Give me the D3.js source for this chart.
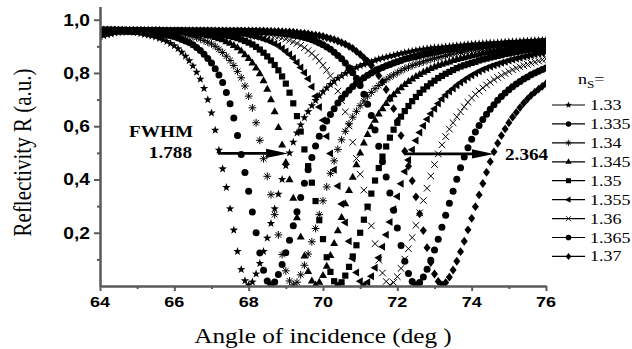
<!DOCTYPE html>
<html><head><meta charset="utf-8">
<script src="https://cdn.jsdelivr.net/npm/d3@7"></script>
<style>body{margin:0;background:#fff}svg{display:block}</style>
</head><body>
<svg id="chart" width="632" height="349"></svg>
<script>
// ---- data ----
const angles = [64,64.1,64.2,64.3,64.4,64.5,64.6,64.7,64.8,64.9,65,65.1,65.2,65.3,65.4,65.5,65.6,65.7,65.8,65.9,
66,66.1,66.2,66.3,66.4,66.5,66.6,66.7,66.8,66.9,67,67.1,67.2,67.3,67.4,67.5,67.6,67.7,67.8,67.9,
68,68.1,68.2,68.3,68.4,68.5,68.6,68.7,68.8,68.9,69,69.1,69.2,69.3,69.4,69.5,69.6,69.7,69.8,69.9,
70,70.1,70.2,70.3,70.4,70.5,70.6,70.7,70.8,70.9,71,71.1,71.2,71.3,71.4,71.5,71.6,71.7,71.8,71.9,
72,72.1,72.2,72.3,72.4,72.5,72.6,72.7,72.8,72.9,73,73.1,73.2,73.3,73.4,73.5,73.6,73.7,73.8,73.9,
74,74.1,74.2,74.3,74.4,74.5,74.6,74.7,74.8,74.9,75,75.1,75.2,75.3,75.4,75.5,75.6,75.7,75.8,75.9,76];

const seriesLabels = ["1.33","1.335","1.34","1.345","1.35","1.355","1.36","1.365","1.37"];
const seriesMarkers = ["star","circle","asterisk","triUp","square","triLeft","cross","circle","diamond"];

const r133 = [.936,.940,.944,.947,.950,.952,.953,.954,.954,.953,
.951,.948,.945,.942,.939,.935,.930,.925,.918,.911,
.902,.891,.878,.863,.846,.826,.803,.777,.742,.700,
.650,.585,.510,.440,.370,.290,.210,.130,.062,.020,
.004,.015,.045,.085,.130,.180,.235,.290,.345,.400,
.452,.500,.540,.575,.605,.632,.655,.677,.697,.715,
.730,.744,.757,.769,.780,.789,.798,.806,.814,.821,
.827,.832,.837,.842,.847,.852,.856,.859,.863,.866,
.870,.873,.876,.879,.882,.885,.887,.889,.891,.893,
.895,.896,.897,.899,.900,.901,.903,.904,.905,.907,
.908,.909,.910,.911,.912,.913,.913,.914,.915,.916,
.917,.918,.918,.919,.920,.920,.921,.922,.922,.923,.924];

const r1335 = [.958,.958,.958,.958,.958,.958,.958,.957,.957,.956,
.956,.955,.954,.953,.952,.950,.948,.946,.943,.940,
.936,.931,.926,.920,.914,.906,.896,.884,.870,.854,
.837,.816,.792,.764,.727,.684,.631,.565,.494,.426,
.356,.278,.200,.124,.059,.019,.004,.015,.043,.081,
.125,.172,.226,.279,.332,.386,.437,.483,.526,.562,
.593,.620,.644,.666,.687,.705,.721,.735,.749,.761,
.772,.782,.791,.800,.807,.815,.821,.827,.832,.837,
.842,.847,.852,.855,.859,.862,.866,.869,.872,.875,
.878,.881,.884,.886,.888,.890,.892,.894,.896,.897,
.898,.899,.901,.902,.903,.904,.906,.907,.908,.909,
.910,.911,.912,.913,.913,.914,.915,.916,.917,.918,.918];

const r134 = [.959,.959,.959,.959,.959,.959,.958,.958,.958,.958,
.958,.958,.957,.957,.956,.956,.955,.954,.953,.952,
.950,.948,.946,.943,.940,.937,.933,.928,.922,.916,
.909,.900,.889,.877,.863,.847,.828,.806,.782,.751,
.713,.669,.613,.547,.478,.412,.343,.268,.192,.118,
.057,.019,.004,.014,.042,.078,.120,.166,.216,.268,
.320,.372,.423,.470,.513,.549,.581,.609,.634,.656,
.677,.695,.713,.727,.741,.753,.765,.775,.785,.793,
.801,.809,.816,.822,.828,.833,.837,.842,.847,.851,
.855,.858,.862,.865,.869,.872,.875,.877,.880,.883,
.886,.887,.889,.891,.893,.895,.896,.897,.898,.900,
.901,.902,.904,.905,.906,.907,.908,.909,.910,.911,.912];

const r1345 = [.960,.960,.960,.960,.959,.959,.959,.959,.958,.958,
.958,.958,.958,.958,.958,.958,.958,.957,.957,.956,
.956,.955,.954,.953,.952,.950,.948,.946,.944,.941,
.938,.934,.929,.925,.918,.912,.904,.895,.883,.869,
.855,.838,.819,.797,.771,.739,.700,.655,.596,.530,
.464,.399,.330,.257,.184,.113,.055,.019,.004,.014,
.040,.075,.115,.160,.208,.258,.309,.359,.409,.456,
.500,.537,.569,.598,.623,.646,.666,.686,.703,.719,
.732,.745,.757,.768,.778,.787,.795,.803,.810,.817,
.823,.828,.833,.838,.842,.847,.851,.855,.858,.861,
.865,.868,.871,.874,.877,.879,.882,.885,.887,.889,
.891,.892,.894,.896,.897,.898,.899,.900,.902,.903,.904];

const r135 = [.960,.960,.960,.960,.959,.959,.959,.959,.959,.959,
.959,.959,.958,.958,.958,.958,.958,.958,.958,.958,
.958,.958,.957,.957,.956,.956,.955,.954,.953,.952,
.951,.949,.947,.944,.941,.939,.935,.931,.926,.920,
.914,.907,.898,.888,.876,.862,.847,.830,.810,.787,
.760,.726,.686,.638,.580,.513,.450,.388,.319,.247,
.176,.108,.053,.018,.004,.014,.039,.072,.111,.153,
.200,.249,.298,.347,.396,.443,.486,.524,.557,.587,
.613,.636,.657,.676,.694,.710,.725,.738,.750,.761,
.771,.781,.789,.797,.804,.811,.818,.824,.829,.833,
.838,.842,.847,.851,.854,.858,.861,.864,.867,.871,
.873,.876,.879,.881,.884,.886,.888,.890,.891,.893,.895];

const r1355 = [.960,.960,.960,.960,.960,.960,.960,.959,.959,.959,
.959,.959,.959,.959,.959,.959,.958,.958,.958,.958,
.958,.958,.958,.958,.958,.958,.958,.958,.957,.957,
.956,.956,.955,.954,.953,.952,.951,.949,.947,.945,
.942,.939,.936,.932,.928,.923,.916,.910,.902,.892,
.881,.869,.855,.839,.821,.801,.778,.748,.713,.672,
.622,.562,.498,.437,.376,.308,.238,.168,.103,.051,
.018,.004,.014,.037,.069,.106,.147,.192,.240,.288,
.336,.384,.430,.473,.512,.546,.576,.602,.626,.647,
.666,.685,.702,.717,.730,.742,.754,.764,.774,.783,
.791,.799,.806,.813,.819,.824,.829,.834,.838,.842,
.847,.851,.854,.857,.861,.864,.867,.870,.873,.875,.878];

const r136 = [.961,.961,.961,.961,.960,.960,.960,.960,.959,.959,
.959,.959,.959,.959,.959,.959,.959,.959,.959,.958,
.958,.958,.958,.958,.958,.958,.958,.958,.958,.958,
.958,.958,.958,.957,.957,.956,.956,.955,.955,.954,
.953,.952,.950,.949,.947,.944,.942,.939,.936,.932,
.928,.923,.917,.911,.904,.895,.884,.873,.860,.845,
.829,.810,.789,.763,.732,.696,.654,.601,.540,.479,
.420,.360,.293,.226,.159,.097,.049,.017,.004,.013,
.035,.066,.101,.140,.182,.228,.275,.321,.367,.413,
.456,.496,.530,.561,.589,.613,.635,.654,.673,.690,
.706,.720,.732,.744,.755,.765,.775,.783,.791,.798,
.805,.812,.818,.823,.828,.832,.837,.841,.845,.850,.853];

const r1365 = [.961,.961,.961,.961,.961,.960,.960,.960,.960,.960,
.960,.960,.959,.959,.959,.959,.959,.959,.959,.959,
.959,.959,.959,.959,.958,.958,.958,.958,.958,.958,
.958,.958,.958,.958,.958,.958,.958,.958,.958,.957,
.957,.956,.956,.955,.955,.954,.953,.952,.950,.949,
.947,.945,.942,.940,.937,.933,.929,.925,.919,.913,
.906,.898,.889,.878,.866,.853,.837,.820,.801,.780,
.753,.720,.683,.640,.586,.525,.467,.409,.349,.284,
.218,.152,.093,.047,.017,.004,.013,.034,.063,.097,
.135,.176,.221,.266,.311,.356,.401,.444,.484,.519,
.551,.578,.603,.625,.645,.664,.681,.698,.712,.725,
.737,.748,.759,.768,.777,.785,.793,.800,.806,.813,.819];

const r137 = [.962,.962,.962,.961,.961,.961,.961,.960,.960,.960,
.960,.960,.960,.960,.960,.960,.960,.959,.959,.959,
.959,.959,.959,.959,.959,.959,.959,.959,.959,.959,
.958,.958,.958,.958,.958,.958,.958,.958,.958,.958,
.958,.958,.958,.958,.958,.957,.957,.956,.956,.955,
.954,.954,.953,.951,.950,.949,.947,.944,.942,.940,
.937,.933,.929,.925,.920,.914,.908,.900,.892,.881,
.870,.857,.844,.828,.810,.790,.767,.738,.705,.666,
.619,.565,.506,.450,.395,.335,.271,.208,.144,.088,
.045,.017,.004,.013,.033,.060,.093,.129,.168,.211,
.254,.298,.342,.385,.427,.467,.504,.536,.565,.590,
.613,.634,.652,.670,.687,.702,.716,.728,.739,.750,.760];

const seriesValues = [r133, r1335, r134, r1345, r135, r1355, r136, r1365, r137];

const xTicks = [64,66,68,70,72,74,76];
const xMinorTicks = [65,67,69,71,73,75];
const yTicks = [0.2,0.4,0.6,0.8,1.0];
const yTickLabels = ["0,2","0,4","0,6","0,8","1,0"];
const yMinorTicks = [0.1,0.3,0.5,0.7,0.9];
const xTitle = "Angle of incidence (deg )";
const yTitle = "Reflectivity R (a.u.)";
// FWHM arrows (angle from, angle to, reflectivity level)
const fwhmArrows = [{from:67.17, to:69.06, r:0.498}, {from:72.2, to:74.6, r:0.496}];
const fwhmValues = ["1.788","2.364"];

// ---- drawing ----
const svg = d3.select("#chart");
const x = d3.scaleLinear().domain([64,76]).range([100,546]);
const y = d3.scaleLinear().domain([0,1.05]).range([286,6.4]);
const SX = 1.2; // horizontal text stretch of the original image
const serif = "'Liberation Serif','Times New Roman',Times,serif";
const sans = "'Liberation Sans',Arial,Helvetica,sans-serif";

function markerPath(type){
  switch(type){
    case "star": {
      let p=""; for(let i=0;i<10;i++){const a=-Math.PI/2+i*Math.PI/5; const rr=i%2?1.8:4.4;
        p+=(i?"L":"M")+(rr*Math.cos(a)).toFixed(2)+","+(rr*Math.sin(a)).toFixed(2);} return p+"Z";}
    case "circle": return "M3.5,0A3.5,3.5 0 1,1 -3.5,0A3.5,3.5 0 1,1 3.5,0Z";
    case "square": return "M-3.1,-3.1H3.1V3.1H-3.1Z";
    case "triUp": return "M0,-4.4L4,2.6L-4,2.6Z";
    case "triLeft": return "M-4.4,0L2.6,-4L2.6,4Z";
    case "diamond": return "M0,-4.4L3.5,0L0,4.4L-3.5,0Z";
    case "asterisk": return "M0,-3.9V3.9M-3.9,0H3.9M-2.8,-2.8L2.8,2.8M-2.8,2.8L2.8,-2.8";
    case "cross": return "M-3.3,-3.3L3.3,3.3M-3.3,3.3L3.3,-3.3";
  }
}
function styleMarker(sel, type){
  if(type==="asterisk"||type==="cross") sel.attr("fill","none").attr("stroke","#000").attr("stroke-width",1);
  else sel.attr("fill","#000").attr("stroke","none");
}

svg.append("defs").append("clipPath").attr("id","plotclip")
  .append("rect").attr("x",100).attr("y",0).attr("width",446).attr("height",286);

const plot = svg.append("g").attr("clip-path","url(#plotclip)");
seriesValues.forEach((vals,i)=>{
  const type = seriesMarkers[i];
  const g = plot.append("g");
  g.selectAll("path").data(vals.map((v,k)=>[angles[k],v])).enter().append("path")
    .attr("d", markerPath(type))
    .attr("transform", d=>`translate(${x(d[0]).toFixed(2)},${y(d[1]).toFixed(2)})`)
    .call(styleMarker, type);
});

// axes
const axisColor = "#5a5a5a";
function styleAxis(g){
  g.selectAll("path,line").attr("stroke",axisColor).attr("stroke-width",2);
  g.selectAll("text").remove();
}
svg.append("g").attr("transform","translate(0,286)")
  .call(d3.axisBottom(x).tickValues(xMinorTicks).tickSize(3).tickSizeOuter(0).tickFormat(()=>"")).call(styleAxis);
svg.append("g").attr("transform","translate(0,286)")
  .call(d3.axisBottom(x).tickValues(xTicks).tickSize(5).tickSizeOuter(0).tickFormat(()=>"")).call(styleAxis);
svg.append("g").attr("transform","translate(100,0)")
  .call(d3.axisLeft(y).tickValues(yMinorTicks).tickSize(3).tickSizeOuter(0).tickFormat(()=>"")).call(styleAxis);
svg.append("g").attr("transform","translate(100,0)")
  .call(d3.axisLeft(y).tickValues(yTicks).tickSize(6).tickSizeOuter(0).tickFormat(()=>"")).call(styleAxis);

// tick labels
svg.append("g").selectAll("text").data(xTicks).enter().append("text")
  .attr("transform", d=>`translate(${x(d)},307) scale(${SX},1)`)
  .attr("text-anchor","middle").attr("font-family",sans).attr("font-weight","bold")
  .attr("font-size",15).text(d=>d);
svg.append("g").selectAll("text").data(yTicks).enter().append("text")
  .attr("transform", (d)=>`translate(90,${(y(d)+5.8).toFixed(2)}) scale(${SX},1)`)
  .attr("text-anchor","end").attr("font-family",sans).attr("font-weight","bold")
  .attr("font-size",16).text((d,i)=>yTickLabels[i]);

// axis titles
svg.append("text").attr("transform",`translate(323,343) scale(${SX},1)`)
  .attr("text-anchor","middle").attr("font-family",serif).attr("font-size",21).text(xTitle);
svg.append("text").attr("transform",`translate(31,152.5) scale(${SX},1) rotate(-90)`)
  .attr("text-anchor","middle").attr("font-family",serif).attr("font-size",21).text(yTitle);

// FWHM arrows
fwhmArrows.forEach(a=>{
  const x1=x(a.from), x2=x(a.to), yy=y(a.r);
  svg.append("line").attr("x1",x1).attr("x2",x2-14).attr("y1",yy).attr("y2",yy)
    .attr("stroke","#000").attr("stroke-width",2.6);
  svg.append("path").attr("d",`M${x2},${yy}L${x2-22},${yy-4.6}L${x2-22},${yy+4.6}Z`).attr("fill","#000");
});
svg.append("text").attr("transform",`translate(193,137) scale(${SX},1)`).attr("text-anchor","end")
  .attr("font-family",serif).attr("font-weight","bold").attr("font-size",16).text("FWHM");
svg.append("text").attr("transform",`translate(192,158) scale(${SX},1)`).attr("text-anchor","end")
  .attr("font-family",serif).attr("font-weight","bold").attr("font-size",16).text(fwhmValues[0]);
svg.append("text").attr("transform",`translate(505,160) scale(${SX},1)`).attr("text-anchor","start")
  .attr("font-family",serif).attr("font-weight","bold").attr("font-size",16).text(fwhmValues[1]);

// legend
const lg = svg.append("g");
const lt = lg.append("text").attr("transform",`translate(578,84) scale(${SX},1)`)
  .attr("font-family",serif).attr("font-size",15);
lt.append("tspan").text("n");
lt.append("tspan").attr("font-size",11).attr("dy",4).text("S");
lt.append("tspan").attr("dy",-4).text("=");
seriesLabels.forEach((lab,i)=>{
  const yy = 105 + i*18.93;
  lg.append("line").attr("x1",552).attr("x2",585).attr("y1",yy).attr("y2",yy)
    .attr("stroke","#000").attr("stroke-width",1.2);
  lg.append("path").attr("d",markerPath(seriesMarkers[i]))
    .attr("transform",`translate(568.5,${yy}) scale(0.8)`).call(styleMarker, seriesMarkers[i]);
  lg.append("text").attr("transform",`translate(590,${yy+5}) scale(${SX},1)`)
    .attr("font-family",serif).attr("font-size",15).text(lab);
});
</script>
</body></html>
